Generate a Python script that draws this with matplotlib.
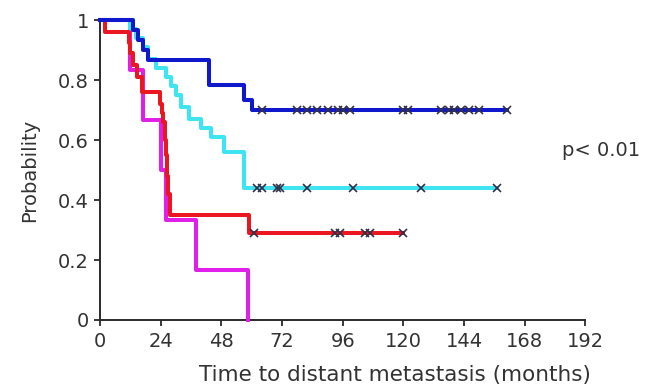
import numpy as np
import matplotlib.pyplot as plt

plt.rcParams['font.family'] = ['DejaVu Sans']

# Kaplan-Meier steps: (time in months, survival after the event)
blue_t = [0, 13, 15, 17, 19, 43, 57, 60]
blue_p = [1.0, 0.967, 0.933, 0.90, 0.867, 0.783, 0.733, 0.70]
blue_end = 161
blue_cens = [64, 78, 82, 86, 90, 94, 96, 99, 120, 122, 135, 138, 140, 143, 146, 150, 161]

cyan_t = [0, 12, 14, 17, 19, 22, 26, 28, 30, 32, 35, 40, 44, 49, 57]
cyan_p = [1.0, 0.97, 0.94, 0.91, 0.87, 0.84, 0.81, 0.78, 0.75, 0.71, 0.67, 0.64, 0.61, 0.56, 0.44]
cyan_end = 157
cyan_cens = [62, 64, 70, 71, 82, 100, 127, 157]

red_t = [0, 2, 11.5, 12, 13, 14.5, 16.5, 23.5, 24.5, 25, 25.5, 26, 26.5, 27, 27.5, 59]
red_p = [1.0, 0.96, 0.925, 0.89, 0.85, 0.81, 0.76, 0.72, 0.69, 0.66, 0.60, 0.55, 0.48, 0.42, 0.35, 0.29]
red_end = 120
red_cens = [61, 93, 95, 105, 107, 120]

mag_t = [0, 12, 17, 24, 26, 38, 58.5]
mag_p = [1.0, 0.833, 0.667, 0.5, 0.333, 0.167, 0.0]
mag_end = 58.5
mag_cens = []

x_ticks = [0, 24, 48, 72, 96, 120, 144, 168, 192]
y_ticks = [0, 0.2, 0.4, 0.6, 0.8, 1]
y_labels = ['0', '0.2', '0.4', '0.6', '0.8', '1']


def km(ax, t, p, end, cens, color):
    tt = list(t) + [end]
    pp = list(p) + [p[-1]]
    ax.step(tt, pp, where='post', color=color, lw=2.9, clip_on=False, zorder=3)
    if cens:
        idx = np.searchsorted(t, cens, side='right') - 1
        ax.plot(cens, np.array(p)[idx], 'x', color='#30304a', ms=5.5, mew=1.2,
                clip_on=False, zorder=4)


fig = plt.figure(figsize=(6.46, 3.86), dpi=100)
ax = fig.add_axes([0.155, 0.171, 0.751, 0.777])

km(ax, mag_t, mag_p, mag_end, mag_cens, '#e020e8')
km(ax, cyan_t, cyan_p, cyan_end, cyan_cens, '#3ee4f0')
km(ax, red_t, red_p, red_end, red_cens, '#ea1620')
km(ax, blue_t, blue_p, blue_end, blue_cens, '#1018cc')

ax.set_xlim(0, 192)
ax.set_ylim(0, 1)
ax.set_xticks(x_ticks)
ax.set_yticks(y_ticks)
ax.set_yticklabels(y_labels)
for s in ['top', 'right']:
    ax.spines[s].set_visible(False)
for s in ['left', 'bottom']:
    ax.spines[s].set_color('#2a2a2a')
    ax.spines[s].set_linewidth(1.4)
ax.tick_params(length=4, width=1.3, color='#2a2a2a', labelsize=14,
               labelcolor='#333333')
ax.tick_params(axis='x', pad=5)
ax.tick_params(axis='y', pad=4)
ax.set_xlabel('Time to distant metastasis (months)', fontsize=15.5,
              color='#333333', ha='left')
ax.xaxis.set_label_coords(0.203, -0.15)
ax.set_ylabel('Probability', fontsize=14, color='#333333', labelpad=14)

fig.text(0.870, 0.611, 'p< 0.01', fontsize=14, color='#333333', va='center')

plt.savefig('out.png', dpi=100)
